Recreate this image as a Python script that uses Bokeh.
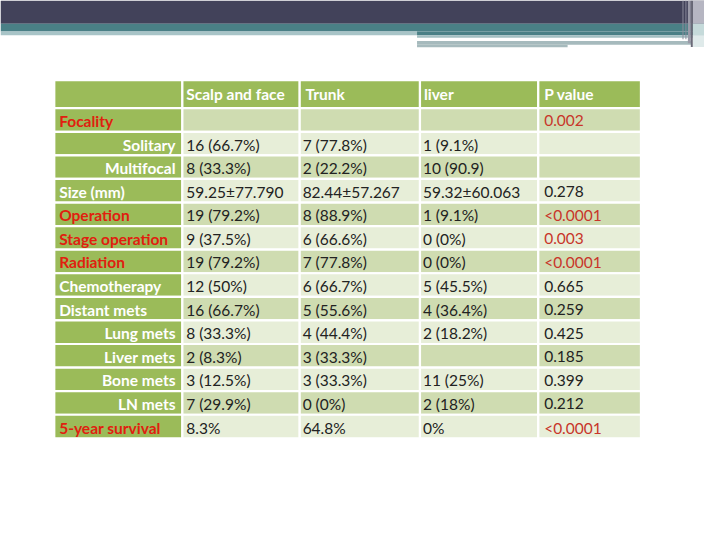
from bokeh.plotting import figure
from bokeh.models import ColumnDataSource, Range1d
from bokeh.embed import file_html
from bokeh.resources import INLINE
from bokeh.core.properties import value

# ---- data ----
columns = ["Scalp and face", "Trunk", "liver", "P value"]
row_labels = ["Focality", "Solitary", "Multifocal", "Size (mm)", "Operation",
              "Stage operation", "Radiation", "Chemotherapy", "Distant mets",
              "Lung mets", "Liver mets", "Bone mets", "LN mets", "5-year survival"]
scalp_face = ["", "16 (66.7%)", "8 (33.3%)", "59.25±77.790", "19 (79.2%)", "9 (37.5%)",
              "19 (79.2%)", "12 (50%)", "16 (66.7%)", "8 (33.3%)", "2 (8.3%)",
              "3 (12.5%)", "7 (29.9%)", "8.3%"]
trunk = ["", "7 (77.8%)", "2 (22.2%)", "82.44±57.267", "8 (88.9%)", "6 (66.6%)",
         "7 (77.8%)", "6 (66.7%)", "5 (55.6%)", "4 (44.4%)", "3 (33.3%)",
         "3 (33.3%)", "0 (0%)", "64.8%"]
liver = ["", "1 (9.1%)", "10 (90.9)", "59.32±60.063", "1 (9.1%)", "0 (0%)", "0 (0%)",
         "5 (45.5%)", "4 (36.4%)", "2 (18.2%)", "", "11 (25%)", "2 (18%)", "0%"]
p_value = ["0.002", "", "", "0.278", "<0.0001", "0.003", "<0.0001", "0.665", "0.259",
           "0.425", "0.185", "0.399", "0.212", "<0.0001"]
label_highlight = [True, False, False, False, True, True, True, False, False,
                   False, False, False, False, True]
label_indent = [False, True, True, False, False, False, False, False, False,
                True, True, True, True, False]
p_significant = [True, False, False, False, True, True, True, False, False,
                 False, False, False, False, True]

# ---- layout / style ----
GREEN = "#9bbb59"
BAND_DARK = "#cfdcb1"
BAND_LIGHT = "#e7eed8"
RED_LABEL = "#e0200f"
RED_P = "#c8352a"
TXT = "#222222"
FONT = "Lato"
FS_DATA = "15.5px"
FS_BOLD = "15.5px"

col_edges = [55, 186, 306, 429, 550, 655]
head_top, head_bot = 82, 111
row_h = 24.3

p = figure(width=704, height=524, output_backend="svg", toolbar_location=None,
           x_range=Range1d(0, 720), y_range=Range1d(540, 0), min_border=0)
p.axis.visible = False
p.grid.visible = False
p.outline_line_color = None
p.background_fill_color = "white"
p.border_fill_color = "white"

# ---- decorative slide header ----
deco = [
    (0, 720, 0, 24, "#42425a"),
    (0, 720, 24, 32, "#4a8086"),
    (426, 720, 32, 35.7, "#4a8086"),
    (0, 426, 32, 35.7, "#a8c4c7"),
    (426, 720, 35.7, 38.3, "#a3bfc2"),
    (426, 707, 41.7, 45.7, "#a6babd"),
    (426, 580, 45.7, 48.3, "#a6babd"),
    (708, 720, 0, 24, "#b6b6c2"),
    (708, 720, 24, 35.7, "#c5dada"),
    (708, 720, 35.7, 48, "#dfeaea"),
    (697.5, 698.5, 0, 40, "#8c8c9c"),
    (700.5, 701.5, 0, 40, "#8c8c9c"),
    (703, 706, 0, 44, "#9a9aa8"),
    (706, 708, 0, 48, "#6a6a78"),
]
p.quad(left=[d[0] for d in deco], right=[d[1] for d in deco],
       top=[d[2] for d in deco], bottom=[d[3] for d in deco],
       fill_color=[d[4] for d in deco], line_color=None)

# ---- table cells ----
n = len(row_labels)
L, R, T, B, F = [], [], [], [], []
for c in range(5):
    L.append(col_edges[c]); R.append(col_edges[c + 1])
    T.append(head_top); B.append(head_bot); F.append(GREEN)
for i in range(n):
    top = head_bot + i * row_h
    for c in range(5):
        L.append(col_edges[c]); R.append(col_edges[c + 1])
        T.append(top); B.append(top + row_h)
        if c == 0:
            F.append(GREEN)
        else:
            F.append(BAND_DARK if i % 2 == 0 else BAND_LIGHT)
p.quad(source=ColumnDataSource(dict(left=L, right=R, top=T, bottom=B, fill=F)),
       left="left", right="right", top="top", bottom="bottom",
       fill_color="fill", line_color="white", line_width=2.2)

# ---- header texts ----
hx = [190, 312, 433, 556]
p.text(x=hx, y=[96.5] * 4, text=columns, text_color="white",
       text_font=value(FONT), text_font_size=FS_BOLD, text_font_style="bold",
       text_baseline="middle", text_align="left")

# ---- row labels ----
ys = [head_bot + (i + 0.5) * row_h + 1 for i in range(n)]
lx = [179 if ind else 60 for ind in label_indent]
la = ["right" if ind else "left" for ind in label_indent]
lc = [RED_LABEL if h else "white" for h in label_highlight]
p.text(source=ColumnDataSource(dict(x=lx, y=ys, t=row_labels, a=la, c=lc)),
       x="x", y="y", text="t", text_align="a", text_color="c",
       text_font=value(FONT), text_font_size=FS_BOLD, text_font_style="bold",
       text_baseline="middle")

# ---- data texts ----
for xv, vals in zip([190, 309, 432], [scalp_face, trunk, liver]):
    p.text(x=[xv] * n, y=ys, text=vals, text_color=TXT,
           text_font=value(FONT), text_font_size=FS_DATA,
           text_baseline="middle", text_align="left")
pc = [RED_P if s else TXT for s in p_significant]
p.text(source=ColumnDataSource(dict(x=[556] * n, y=ys, t=p_value, c=pc)),
       x="x", y="y", text="t", text_color="c",
       text_font=value(FONT), text_font_size=FS_DATA,
       text_baseline="middle", text_align="left")

open("out.html", "w").write(file_html(p, INLINE))
